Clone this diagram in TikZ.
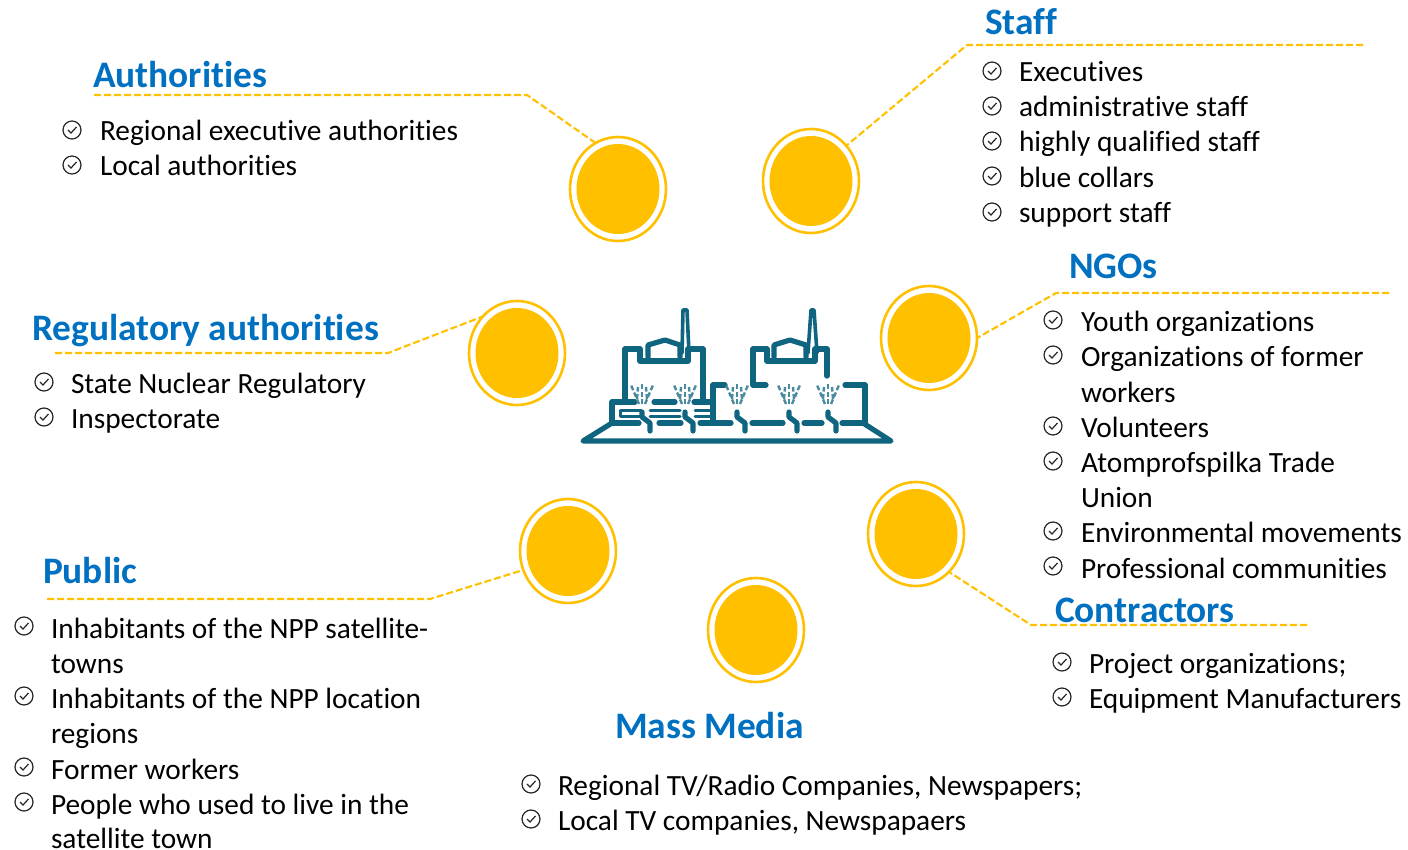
\documentclass[tikz,border=0pt]{standalone}
\usepackage{fontspec}
\setmainfont{Carlito}[Ligatures={NoCommon}]
\usetikzlibrary{shapes.geometric}
\definecolor{gold}{HTML}{FFC000}
\definecolor{headblue}{HTML}{0070C0}
\definecolor{plant}{HTML}{0F6480}
\tikzset{
  x=1pt,y=-1pt,
  hub/.style={ellipse,draw=gold,line width=2.6pt,fill=white,minimum width=96pt,minimum height=104pt,inner sep=0pt,outer sep=0pt},
  disc/.style={ellipse,fill=gold,minimum width=83pt,minimum height=90pt,inner sep=0pt,outer sep=0pt},
  lead/.style={draw=gold,line width=2.1pt,dash pattern=on 7pt off 3pt},
  head/.style={anchor=base west,inner sep=0pt,outer sep=0pt,yshift=-1pt,text=headblue,font=\fontsize{37.4}{42}\selectfont\bfseries},
  item/.style={anchor=base west,inner sep=0pt,outer sep=0pt,yshift=-1pt,font=\fontsize{29.35}{33}\selectfont},
  tick/.style={circle,draw=black!85,line width=1.2pt,minimum size=18pt,inner sep=0pt,outer sep=0pt},
  wall/.style={draw=plant,line width=5.2pt,line cap=round,line join=round},
  jet/.style={draw=plant!75,line width=2.4pt,dash pattern=on 5pt off 2.5pt}
}
\newcommand{\tickmark}[2]{%
  \node[tick] (t#1x#2) at (#1,#2) {};
  \draw[line width=1.2pt,black!85] (#1-4,#2) -- (#1-1,#2+3) -- (#1+4.5,#2-3);
}
\newcommand{\hubdisc}[3]{%
  \node[hub] (#1) at (#2,#3) {};
  \node[disc] (#1d) at (#2,#3) {};
}
\newcommand{\spray}[1]{%
  \draw[jet] (#1,109) -- (#1,87);
  \draw[jet] (#1-3,109) -- (#1-11,90);
  \draw[jet] (#1+3,109) -- (#1+11,90);
  \draw[jet] (#1-5,104) -- (#1-4,92);
  \draw[jet] (#1+5,104) -- (#1+4,92);
}
\newcommand{\pipe}[1]{%
  \draw[wall] (#1,117) -- (#1,122) -- (#1+8,128) -- (#1+8,136);
}
\begin{document}
\begin{tikzpicture}
\useasboundingbox (0,0) rectangle (1408,850);

% hubs
\hubdisc{auth}{618}{189}
\hubdisc{staff}{811}{181}
\hubdisc{ngo}{929}{338}
\hubdisc{reg}{517}{353}
\hubdisc{contr}{916}{534}
\hubdisc{pub}{568}{551}
\hubdisc{media}{756}{630}

% connector free ends
\coordinate (a1) at (94,95);   \coordinate (a2) at (527,95);
\coordinate (s1) at (1363,45); \coordinate (s2) at (967,45);
\coordinate (n1) at (1389,293);\coordinate (n2) at (1056,293);
\coordinate (r1) at (55,353);  \coordinate (r2) at (388,353);
\coordinate (c1) at (1307,625);\coordinate (c2) at (1031,625);
\coordinate (p1) at (47,599);  \coordinate (p2) at (430,599);

\draw[lead] (a1) -- (a2) -- (auth.116);
\draw[lead] (s1) -- (s2) -- (staff.45);
\draw[lead] (n1) -- (n2) -- (ngo.0);
\draw[lead] (r1) -- (r2) -- (reg.133);
\draw[lead] (c1) -- (c2) -- (contr.-49);
\draw[lead] (p1) -- (p2) -- (pub.203);

% headings
\node[head] (hAuth) at (93,87) {Authorities};
\node[head] (hStaff) at (985,34) {Staff};
\node[head] (hNgo) at (1069,278) {NGOs};
\node[head] (hReg) at (32,339) {Regulatory authorities};
\node[head] (hPub) at (43,582) {Public};
\node[head] (hContr) at (1055,621) {Contractors};
\node[head] (hMedia) at (615,737) {Mass Media};

% Authorities
\tickmark{72}{130}\node[item] (ia1) at (100,140) {Regional executive authorities};
\tickmark{72}{165}\node[item] (ia2) at (100,175) {Local authorities};
% Staff
\tickmark{992}{71}\node[item] (is1) at (1019,81) {Executives};
\tickmark{992}{106}\node[item] (is2) at (1019,116) {administrative staff};
\tickmark{992}{141}\node[item] (is3) at (1019,151) {highly qualified staff};
\tickmark{992}{176}\node[item] (is4) at (1019,187) {blue collars};
\tickmark{992}{212}\node[item] (is5) at (1019,222) {support staff};
% NGOs
\tickmark{1053}{320}\node[item] (in1) at (1081,330) {Youth organizations};
\tickmark{1053}{355}\node[item] (in2) at (1081,365) {Organizations of former};
\node[item] (in2b) at (1081,401) {workers};
\tickmark{1053}{426}\node[item] (in3) at (1081,436) {Volunteers};
\tickmark{1053}{461}\node[item] (in4) at (1081,471) {Atomprofspilka Trade};
\node[item] (in4b) at (1081,506) {Union};
\tickmark{1053}{531}\node[item] (in5) at (1081,541) {Environmental movements};
\tickmark{1053}{566}\node[item] (in6) at (1081,577) {Professional communities};
% Regulatory
\tickmark{44}{382}\node[item] (ir1) at (71,392) {State Nuclear Regulatory};
\tickmark{44}{417}\node[item] (ir2) at (71,427) {Inspectorate};
% Contractors
\tickmark{1062}{662}\node[item] (ic1) at (1089,672) {Project organizations;};
\tickmark{1062}{697}\node[item] (ic2) at (1089,707) {Equipment Manufacturers};
% Public
\tickmark{24}{626}\node[item] (ip1) at (51,637) {Inhabitants of the NPP satellite-};
\node[item] (ip1b) at (51,672) {towns};
\tickmark{24}{696}\node[item] (ip2) at (51,707) {Inhabitants of the NPP location};
\node[item] (ip2b) at (51,742) {regions};
\tickmark{24}{767}\node[item] (ip3) at (51,778) {Former workers};
\tickmark{24}{802}\node[item] (ip4) at (51,813) {People who used to live in the};
\node[item] (ip4b) at (51,847) {satellite town};
% Media
\tickmark{531}{784}\node[item] (im1) at (558,794) {Regional TV/Radio Companies, Newspapers;};
\tickmark{531}{819}\node[item] (im2) at (558,829) {Local TV companies, Newspapaers};

% plant icon
\begin{scope}[shift={(570,295)}]
  \draw[wall] (42,128) -- (13,146) -- (321,146) -- (293,128);
  \draw[wall] (55,105) -- (55,54) -- (70,54) -- (70,66) -- (118,66) -- (118,54) -- (133,54) -- (133,105);
  \draw[wall] (78,62) -- (78,50) -- (95,45) -- (110,50) -- (110,62);
  \draw[wall,line width=3.6pt] (112,58) -- (113,15) -- (117,15) -- (119,58);
  \draw[wall] (196,90) -- (183,90) -- (183,54) -- (197,54) -- (197,66) -- (245,66) -- (245,54) -- (257,54) -- (257,81);
  \draw[wall] (204,62) -- (204,50) -- (220,45) -- (236,50) -- (236,62);
  \draw[wall,line width=3.6pt] (238,58) -- (241,15) -- (244,15) -- (247,58);
  \draw[wall] (275,90) -- (295,90) -- (295,128);
  \draw[wall] (155,90) -- (143,90) -- (143,128);
  \draw[wall] (42,128) -- (42,107) -- (65,107);
  \draw[wall] (84,107) -- (105,107);
  \draw[wall] (124,107) -- (143,107);
  \draw[wall,line width=3pt] (71,115) -- (50,115) -- (50,121) -- (70,121);
  \draw[wall,line width=3pt] (80,115) -- (110,115);
  \draw[wall,line width=3pt] (80,121) -- (110,121);
  \draw[wall,line width=3pt] (125,115) -- (141,115);
  \draw[wall,line width=3pt] (125,121) -- (141,121);
  \draw[wall] (42,128) -- (69,128);
  \draw[wall] (89,128) -- (111,128);
  \draw[wall] (130,128) -- (161,128);
  \draw[wall] (182,128) -- (213,128);
  \draw[wall] (234,128) -- (252,128);
  \draw[wall] (272,128) -- (295,128);
  \pipe{72}\pipe{115}\pipe{167}\pipe{219}\pipe{258}
  \spray{72}\spray{115}\spray{167}\spray{219}\spray{258}
\end{scope}
\end{tikzpicture}
\end{document}
